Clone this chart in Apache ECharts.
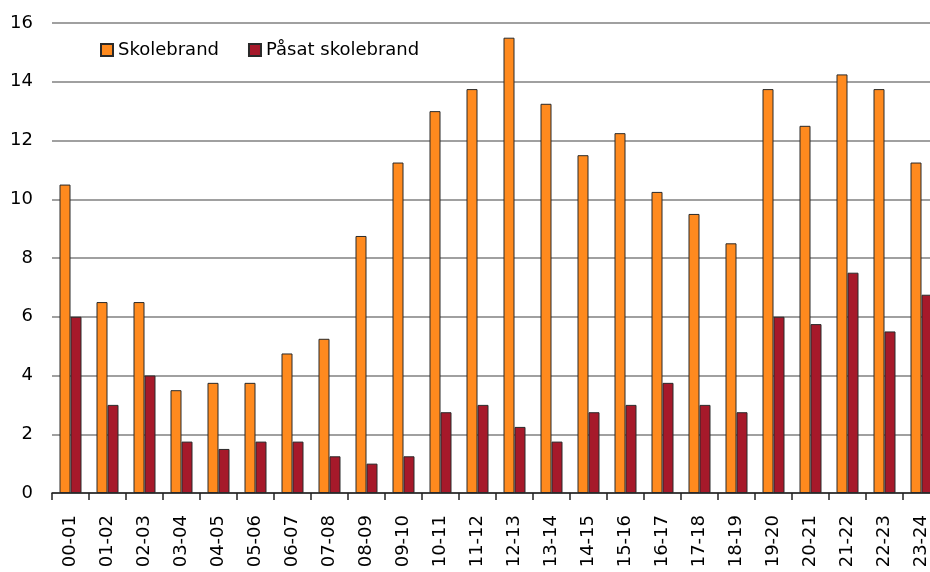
<!DOCTYPE html>
<html>
<head>
<meta charset="utf-8">
<script src="https://cdn.jsdelivr.net/npm/echarts@6/dist/echarts.min.js"></script>
<style>
html,body{margin:0;padding:0;background:#fff;overflow:hidden;width:930px;height:572px;}
#chart{width:940px;height:572px;}
</style>
</head>
<body>
<div id="chart"></div>
<script>
const categories = ["00-01","01-02","02-03","03-04","04-05","05-06","06-07","07-08","08-09","09-10","10-11","11-12","12-13","13-14","14-15","15-16","16-17","17-18","18-19","19-20","20-21","21-22","22-23","23-24"];
const skolebrand = [10.5,6.5,6.5,3.5,3.75,3.75,4.75,5.25,8.75,11.25,13,13.75,15.5,13.25,11.5,12.25,10.25,9.5,8.5,13.75,12.5,14.25,13.75,11.25];
const paasat = [6,3,4,1.75,1.5,1.75,1.75,1.25,1,1.25,2.75,3,2.25,1.75,2.75,3,3.75,3,2.75,6,5.75,7.5,5.5,6.75];
const seriesNames = ["Skolebrand","Påsat skolebrand"];

const chart = echarts.init(document.getElementById('chart'));
const font = "DejaVu Sans";
chart.setOption({
  animation:false,
  backgroundColor:'#ffffff',
  grid:{left:52,right:0,top:23,bottom:79,containLabel:false},
  legend:{
    left:95, top:36,
    itemWidth:12, itemHeight:12, itemGap:29,
    icon:'rect',
    textStyle:{fontFamily:font,fontSize:18,color:'#000'},
    data:seriesNames
  },
  xAxis:{
    type:'category',
    data:categories,
    boundaryGap:true,
    axisLine:{show:true,lineStyle:{color:'#222',width:1.5}},
    axisTick:{show:true,length:7,alignWithLabel:false,lineStyle:{color:'#222',width:1.5}},
    axisLabel:{rotate:90,margin:22,interval:0,fontFamily:font,fontSize:18,color:'#000'},
    splitLine:{show:false}
  },
  yAxis:{
    type:'value',
    min:0,max:16,interval:2,
    axisLine:{show:false},
    axisTick:{show:false},
    axisLabel:{margin:19,fontFamily:font,fontSize:18,color:'#000'},
    splitLine:{show:true,lineStyle:{color:'#808080',width:1.5}}
  },
  series:[
    {name:seriesNames[0],type:'bar',data:skolebrand,barWidth:11,barGap:'0%',
     itemStyle:{color:'#FF8A1E',borderColor:'#2a2a2a',borderWidth:1}},
    {name:seriesNames[1],type:'bar',data:paasat,barWidth:11,barGap:'0%',
     itemStyle:{color:'#A6192A',borderColor:'#2a2a2a',borderWidth:1}}
  ]
});
</script>
</body>
</html>
